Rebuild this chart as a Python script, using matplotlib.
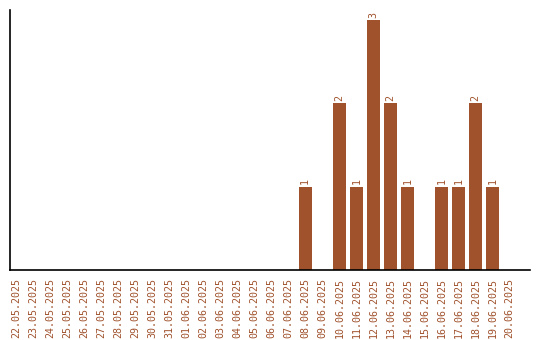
import matplotlib
matplotlib.use("Agg")
import matplotlib.pyplot as plt

dates = ["22.05.2025", "23.05.2025", "24.05.2025", "25.05.2025", "26.05.2025",
         "27.05.2025", "28.05.2025", "29.05.2025", "30.05.2025", "31.05.2025",
         "01.06.2025", "02.06.2025", "03.06.2025", "04.06.2025", "05.06.2025",
         "06.06.2025", "07.06.2025", "08.06.2025", "09.06.2025", "10.06.2025",
         "11.06.2025", "12.06.2025", "13.06.2025", "14.06.2025", "15.06.2025",
         "16.06.2025", "17.06.2025", "18.06.2025", "19.06.2025", "20.06.2025"]
counts = [0, 0, 0, 0, 0, 0, 0, 0, 0, 0, 0, 0, 0, 0, 0, 0, 0,
          1, 0, 2, 1, 3, 2, 1, 0, 1, 1, 2, 1, 0]

color = "#A0522D"
font = "DejaVu Sans Mono"
fig = plt.figure(figsize=(5.4, 3.4), dpi=100)
ax = fig.add_axes([10/540, 70/340, 520/540, 260/340])
x = list(range(len(dates)))
ax.bar(x, counts, width=0.78, color=color)
for xi, c in zip(x, counts):
    if c > 0:
        ax.text(xi, c + 0.03, str(c), rotation=90, ha="center", va="bottom",
                fontsize=7.2, color=color, family=font)
ax.set_xlim(-0.34, 30.2)
ax.set_ylim(0, 3.12)
ax.set_xticks(x)
ax.set_xticklabels(dates, rotation=90, fontsize=7.2, color=color, family=font)
ax.tick_params(axis="x", length=0, pad=6)
ax.set_yticks([])
ax.spines["top"].set_visible(False)
ax.spines["right"].set_visible(False)
ax.spines["left"].set_linewidth(1.2)
ax.spines["bottom"].set_linewidth(1.2)
fig.savefig("out.png", dpi=100)
